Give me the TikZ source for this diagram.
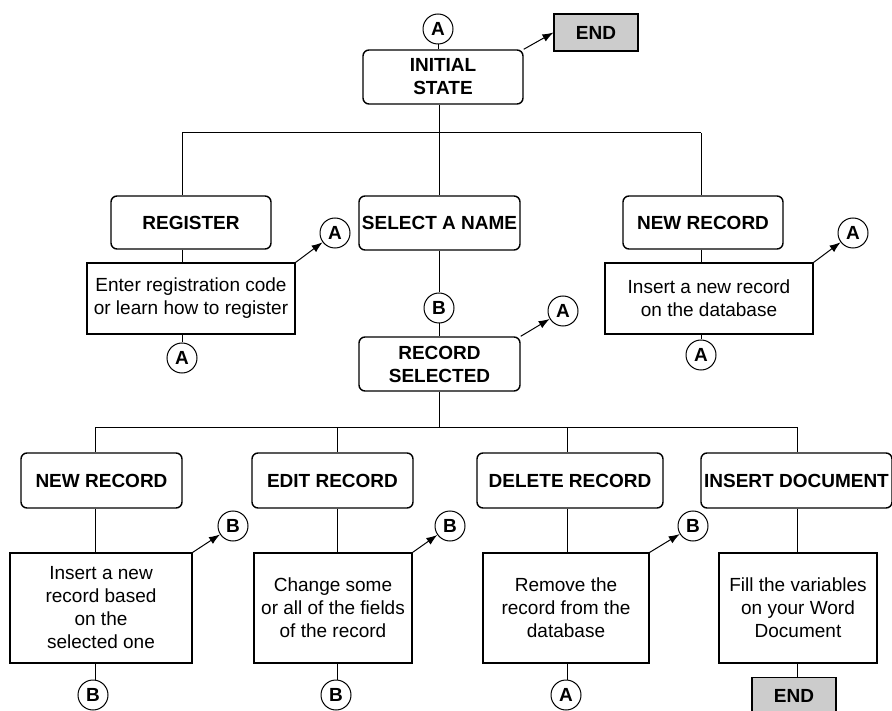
\documentclass[tikz,border=0pt]{standalone}
\usepackage{fontspec}
\setmainfont{Liberation Sans}
\usepackage{tikz}
\usetikzlibrary{arrows.meta,positioning,calc}
\definecolor{endgray}{RGB}{204,204,204}
\newcommand\chartfont{\fontsize{19}{23}\selectfont}
\tikzstyle{state}=[draw,rounded corners=6pt,line width=1.4pt,font=\chartfont\bfseries,align=center,minimum height=54pt,inner sep=2pt]
\tikzstyle{action}=[draw,line width=1.1pt,font=\chartfont,align=center,inner sep=2pt]
\tikzstyle{conn}=[draw,circle,line width=1pt,minimum size=30pt,inner sep=0pt,font=\chartfont\bfseries]
\tikzstyle{endbox}=[draw,fill=endgray,line width=1.1pt,font=\chartfont\bfseries,minimum width=84pt,minimum height=37pt]
\tikzstyle{jump}=[-{Latex[length=11pt,width=8pt]},line width=1pt]

\begin{document}
\begin{tikzpicture}[x=1pt,y=-1pt,line width=1pt]
\useasboundingbox (0,0) rectangle (892,711);
% top
\node[conn] (topA) at (438,29) {A};
\node[state,minimum width=160pt] (init) at (443,77) {INITIAL\\STATE};
\node[endbox] (topend) at (596,32.5) {END};
% first level
\node[state,minimum width=160pt,minimum height=53pt] (reg) at (191,222.5) {REGISTER};
\node[action,minimum width=208pt,minimum height=71pt] (regtxt) at (191,298.5) {Enter registration code\\or learn how to register};
\node[conn] (regA) at (182,358) {A};
\node[conn] (regjump) at (335,233) {A};
\node[state,minimum width=161pt] (sel) at (439.5,223) {SELECT A NAME};
\node[conn] (selB) at (439,308) {B};
\node[state,minimum width=161pt] (rs) at (439.5,364) {RECORD\\SELECTED};
\node[conn] (rsjump) at (563,311) {A};
\node[state,minimum width=160pt,minimum height=53pt] (nr) at (703,222.5) {NEW RECORD};
\node[action,minimum width=208pt,minimum height=71pt] (nrtxt) at (709,298.5) {Insert a new record\\on the database};
\node[conn] (nrjump) at (853,233) {A};
\node[conn] (nrA) at (701,355) {A};
% second level
\node[state,minimum width=161pt,minimum height=55pt] (newrec) at (101.5,480.5) {NEW RECORD};
\node[action,minimum width=182pt,minimum height=110pt] (newtxt) at (101,608) {Insert a new\\record based\\on the\\selected one};
\node[conn] (newjump) at (233,526) {B};
\node[conn] (newB) at (93,695) {B};
\node[state,minimum width=161pt,minimum height=55pt] (edit) at (332.5,480.5) {EDIT RECORD};
\node[action,minimum width=158pt,minimum height=110pt] (edittxt) at (333,608) {Change some\\or all of the fields\\of the record};
\node[conn] (editjump) at (450,526) {B};
\node[conn] (editB) at (336,695) {B};
\node[state,minimum width=186pt,minimum height=55pt] (del) at (570,480.5) {DELETE RECORD};
\node[action,minimum width=166pt,minimum height=110pt] (deltxt) at (566,608) {Remove the\\record from the\\database};
\node[conn] (deljump) at (693,526) {B};
\node[conn] (delA) at (566,695) {A};
\node[state,minimum width=191pt,minimum height=55pt,inner sep=0pt] (ins) at (796.5,480.5) {INSERT DOCUMENT};
\node[action,minimum width=158pt,minimum height=110pt] (instxt) at (798,608) {Fill the variables\\on your Word\\Document};
\node[endbox] (insend) at (794,696) {END};
% bus lines
\coordinate (t1) at (182,133);
\coordinate (t2) at (439,133);
\coordinate (t3) at (701,133);
\coordinate (u1) at (95,427);
\coordinate (u2) at (337,427);
\coordinate (u3) at (567,427);
\coordinate (u4) at (797,427);
\draw (t1) -- (t3);
\draw (u1) -- (u4);
\draw (topA) -- (topA |- init.north);
\draw (t2) -- (t2 |- init.south);
\draw (t1) -- (t1 |- reg.north);
\draw (t2) -- (t2 |- sel.north);
\draw (t3) -- (t3 |- nr.north);
\draw (t1 |- reg.south) -- (t1 |- regtxt.north);
\draw (t1 |- regtxt.south) -- (regA);
\draw (t2 |- sel.south) -- (selB);
\draw (selB) -- (t2 |- rs.north);
\draw (t2 |- rs.south) -- (t2 |- u1);
\draw (t3 |- nr.south) -- (t3 |- nrtxt.north);
\draw (t3 |- nrtxt.south) -- (nrA);
\draw (u1) -- (u1 |- newrec.north);
\draw (u2) -- (u2 |- edit.north);
\draw (u3) -- (u3 |- del.north);
\draw (u4) -- (u4 |- ins.north);
\draw (u1 |- newrec.south) -- (u1 |- newtxt.north);
\draw (u2 |- edit.south) -- (u2 |- edittxt.north);
\draw (u3 |- del.south) -- (u3 |- deltxt.north);
\draw (u4 |- ins.south) -- (u4 |- instxt.north);
\draw (u1 |- newtxt.south) -- (u1 |- newB.north);
\draw (u2 |- edittxt.south) -- (u2 |- editB.north);
\draw (u3 |- deltxt.south) -- (u3 |- delA.north);
\draw (u4 |- instxt.south) -- (u4 |- insend.north);
% jumps
\draw[jump] (init.north east) -- (topend.west);
\draw[jump] (regtxt.north east) -- (regjump);
\draw[jump] (rs.north east) -- (rsjump);
\draw[jump] (nrtxt.north east) -- (nrjump);
\draw[jump] (newtxt.north east) -- (newjump);
\draw[jump] (edittxt.north east) -- (editjump);
\draw[jump] (deltxt.north east) -- (deljump);
\end{tikzpicture}
\end{document}
